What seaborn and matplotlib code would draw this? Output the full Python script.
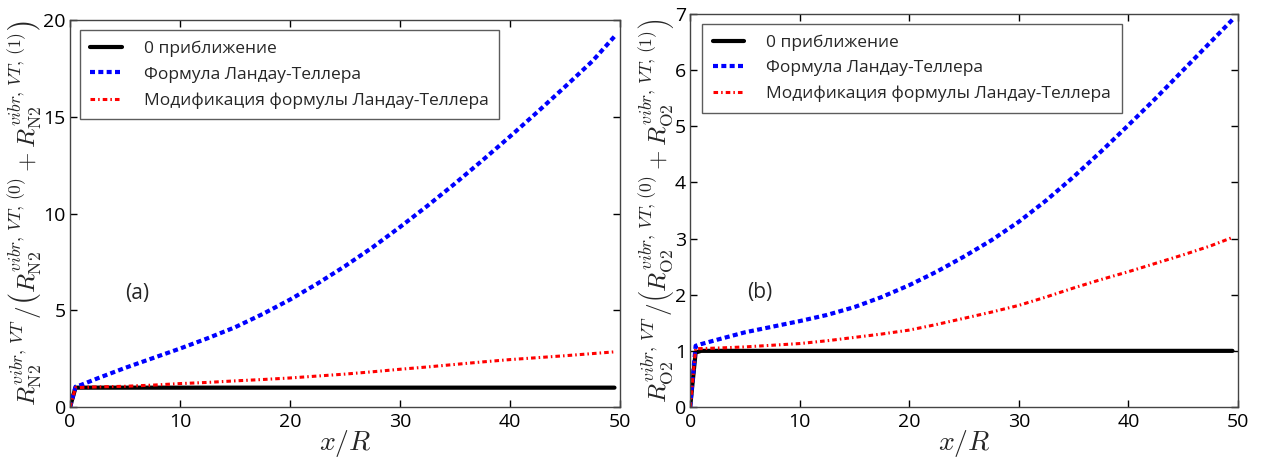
import matplotlib
matplotlib.use("Agg")
import matplotlib.pyplot as plt
import seaborn as sns
import pandas as pd

# Data
x_vals = [0, 0.5, 1, 2.5, 5, 7.5, 10, 12.5, 15, 17.5, 20, 22.5, 25, 27.5,
          30, 32.5, 35, 37.5, 40, 42.5, 45, 47.5, 49.5]

n2_zero = [0] + [1.0] * 22
n2_lt = [0, 1.05, 1.14, 1.48, 2.02, 2.52, 3.02, 3.55, 4.12, 4.8, 5.55, 6.38,
         7.28, 8.25, 9.3, 10.4, 11.55, 12.75, 13.98, 15.25, 16.55, 17.88, 19.15]
n2_mod = [0, 1.0, 1.01, 1.04, 1.07, 1.13, 1.21, 1.27, 1.35, 1.42, 1.5, 1.6,
          1.7, 1.82, 1.95, 2.07, 2.2, 2.33, 2.45, 2.55, 2.65, 2.76, 2.85]

o2_zero = [0, 0.97] + [1.0] * 21
o2_lt = [0, 1.09, 1.12, 1.2, 1.33, 1.43, 1.53, 1.64, 1.78, 1.96, 2.17, 2.41,
         2.68, 2.97, 3.3, 3.68, 4.1, 4.55, 5.02, 5.5, 6.0, 6.5, 6.9]
o2_mod = [0, 1.04, 1.04, 1.05, 1.07, 1.1, 1.13, 1.18, 1.24, 1.3, 1.37, 1.47,
          1.58, 1.69, 1.81, 1.96, 2.12, 2.27, 2.41, 2.56, 2.71, 2.87, 3.02]

labels = ["0 приближение", "Формула Ландау-Теллера", "Модификация формулы Ландау-Теллера"]
panel_tags = ["(a)", "(b)"]

sns.set_style("ticks")
plt.rcParams["font.family"] = ["Open Sans", "DejaVu Sans"]
plt.rcParams["mathtext.fontset"] = "cm"
plt.rcParams["xtick.direction"] = "in"
plt.rcParams["ytick.direction"] = "in"
plt.rcParams["xtick.top"] = True
plt.rcParams["ytick.right"] = True
plt.rcParams["xtick.color"] = "black"
plt.rcParams["ytick.color"] = "black"
plt.rcParams["xtick.labelcolor"] = "black"
plt.rcParams["ytick.labelcolor"] = "black"

fig = plt.figure(figsize=(12.64, 4.59), dpi=100)
ax1 = fig.add_axes([0.0554, 0.1133, 0.4351, 0.8431])
ax2 = fig.add_axes([0.546, 0.1133, 0.4334, 0.8562])

styles = [
    dict(color="black", lw=3.0, ls="-"),
    dict(color="blue", lw=3.0, ls=(0, (1.2, 0.8))),
    dict(color="red", lw=2.2, ls=(0, (1.5, 1.0, 0.5, 1.0))),
]

def draw(ax, series, gas, ymax, yticks, tag, tagpos, leg_anchor):
    for s, lab, st in zip(series, labels, styles):
        df = pd.DataFrame({"x": x_vals, "y": s})
        sns.lineplot(data=df, x="x", y="y", ax=ax, label=lab, estimator=None,
                     sort=False, color=st["color"], linewidth=st["lw"], linestyle=st["ls"])
    ax.set_xlim(0, 50)
    ax.set_ylim(0, ymax)
    ax.set_xticks([0, 10, 20, 30, 40, 50])
    ax.set_yticks(yticks)
    ax.tick_params(axis="x", labelsize=14, length=5, width=1, pad=4)
    ax.tick_params(axis="y", labelsize=14, length=5, width=1, pad=3)
    for sp in ax.spines.values():
        sp.set_color("#444444")
        sp.set_linewidth(1.0)
    ax.set_xlabel(r"$x/R$", fontsize=20, labelpad=-2)
    ax.set_ylabel(r"$R_{\mathrm{%s}}^{vibr,\,VT}\,/\left(R_{\mathrm{%s}}^{vibr,\,VT,\,(0)}+R_{\mathrm{%s}}^{vibr,\,VT,\,(1)}\right)$" % (gas, gas, gas),
                  fontsize=18, labelpad=-1)
    ax.text(tagpos[0], tagpos[1], tag, fontsize=15)
    leg = ax.legend(loc="upper left", fontsize=12.5, frameon=True, fancybox=False,
                    handlelength=1.8, borderpad=0.6, labelspacing=0.55,
                    handletextpad=1.3, borderaxespad=0, bbox_to_anchor=leg_anchor)
    leg.get_frame().set_edgecolor("#333333")
    leg.get_frame().set_linewidth(1.0)

draw(ax1, [n2_zero, n2_lt, n2_mod], "N2", 20, [0, 5, 10, 15, 20], panel_tags[0],
     (5.0, 5.6), (0.018, 0.974))
draw(ax2, [o2_zero, o2_lt, o2_mod], "O2", 7, [0, 1, 2, 3, 4, 5, 6, 7], panel_tags[1],
     (5.2, 1.95), (0.022, 0.975))

fig.savefig("out.png", dpi=100)
